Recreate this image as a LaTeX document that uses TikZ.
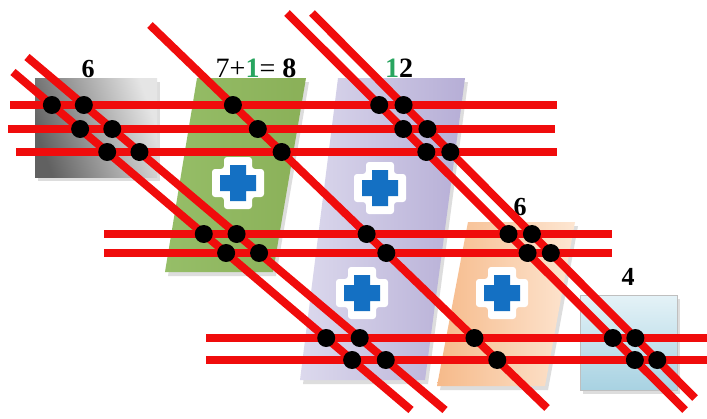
\documentclass[tikz,border=0pt]{standalone}
\usepackage{fontspec}
\setmainfont{Liberation Serif}
\definecolor{lred}{RGB}{240,12,12}
\definecolor{lgreen}{RGB}{40,165,95}
\definecolor{lblue}{RGB}{20,112,195}
\definecolor{gA}{RGB}{150,190,104}
\definecolor{gB}{RGB}{138,176,88}
\definecolor{pA}{RGB}{220,217,237}
\definecolor{pB}{RGB}{182,174,214}
\definecolor{oA}{RGB}{246,186,138}
\definecolor{oB}{RGB}{253,230,210}
\definecolor{bA}{RGB}{228,242,247}
\definecolor{bB}{RGB}{168,210,226}
\newcommand\medcross[1]{%
  \begin{scope}[shift={#1}]
    \fill[white, rounded corners=3pt] (-14,-26) -- (14,-26) -- (14,-14) -- (26,-14) -- (26,14) -- (14,14) -- (14,26) -- (-14,26) -- (-14,14) -- (-26,14) -- (-26,-14) -- (-14,-14) -- cycle;
    \fill[lblue] (-8,-18) -- (8,-18) -- (8,-8) -- (18,-8) -- (18,8) -- (8,8) -- (8,18) -- (-8,18) -- (-8,8) -- (-18,8) -- (-18,-8) -- (-8,-8) -- cycle;
  \end{scope}}
\begin{document}
\begin{tikzpicture}[x=1pt,y=-1pt,
  redline/.style={line width=8pt, draw=lred},
  dotmark/.style={fill=black},
  shadowfill/.style={fill=black!22, opacity=0.6},
  lbl/.style={font=\fontsize{26}{26}\selectfont\bfseries, anchor=base, inner sep=0pt}]
\useasboundingbox (0,0) rectangle (707,418);
\fill[white] (0,0) rectangle (707,418);

% shadows
\fill[shadowfill] (38,82) rectangle (160,181);
\fill[shadowfill] (200,82) -- (309,82) -- (276,276) -- (168,276) -- cycle;
\fill[shadowfill] (341,82) -- (468,82) -- (428,384) -- (303,384) -- cycle;
\fill[shadowfill] (471,226) -- (578,226) -- (548,390) -- (440,390) -- cycle;
\fill[shadowfill] (583,299) rectangle (680,394);

% boxes
\shade[left color=black!62, right color=black!10, shading angle=110] (35,78) rectangle (157,177);
\shade[left color=gA, right color=gB] (197,78) -- (306,78) -- (273,272) -- (165,272) -- cycle;
\shade[left color=pA, right color=pB] (338,78) -- (465,78) -- (425,380) -- (300,380) -- cycle;
\shade[left color=oA, right color=oB] (468,222) -- (575,222) -- (545,386) -- (437,386) -- cycle;
\shade[top color=bA, bottom color=bB] (580,295) rectangle (677,390);
\draw[black!25, line width=0.6pt] (580,295) rectangle (677,390);

% crosses
\medcross{(238,183)}
\medcross{(380,188)}
\medcross{(362,293)}
\medcross{(502,293)}

% labels
\node[lbl] (l6a) at (88,77) {6};
\node[lbl, font=\fontsize{28}{28}\selectfont] (l8) at (256,77) {7+{\bfseries\color{lgreen}1}= \textbf{8}};
\node[lbl, font=\fontsize{28}{28}\selectfont\bfseries] (l12) at (399,77) {{\color{lgreen}1}2};
\node[lbl] (l6b) at (520,215) {6};
\node[lbl] (l4) at (628,285) {4};

% line end points
\coordinate (h1a) at (10,105);  \coordinate (h1b) at (557,105);
\coordinate (h2a) at (8,129);   \coordinate (h2b) at (555,129);
\coordinate (h3a) at (16,152);  \coordinate (h3b) at (557,152);
\coordinate (h4a) at (104,234); \coordinate (h4b) at (612,234);
\coordinate (h5a) at (104,253); \coordinate (h5b) at (612,253);
\coordinate (h6a) at (206,338); \coordinate (h6b) at (707,338);
\coordinate (h7a) at (206,360); \coordinate (h7b) at (707,360);

\coordinate (d1a) at (13,72);   \coordinate (d1b) at (411,410);
\coordinate (d2a) at (27,57);   \coordinate (d2b) at (445,410);
\coordinate (d3a) at (150,25);  \coordinate (d3b) at (547,408);
\coordinate (d4a) at (287,13);  \coordinate (d4b) at (685,410);
\coordinate (d5a) at (312,13);  \coordinate (d5b) at (695,398);

\foreach \i in {1,...,7} \draw[redline] (h\i a) -- (h\i b);
\foreach \i in {1,...,5} \draw[redline] (d\i a) -- (d\i b);

\foreach \d in {1,...,5}
  \foreach \h in {1,...,7}
    \fill[dotmark] (intersection of d\d a--d\d b and h\h a--h\h b) circle (9pt);
\end{tikzpicture}
\end{document}
